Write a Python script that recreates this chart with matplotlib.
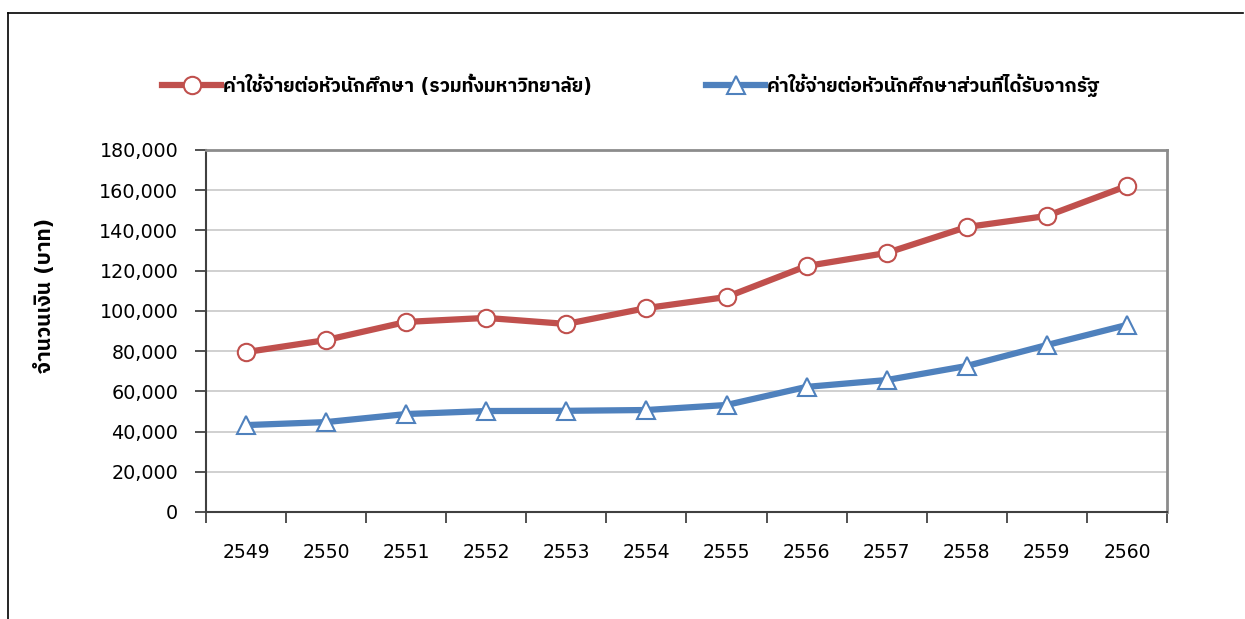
import matplotlib
matplotlib.use("Agg")
import matplotlib.pyplot as plt
from matplotlib.lines import Line2D
from matplotlib.ticker import FuncFormatter, FixedLocator
from matplotlib import font_manager

# หาฟอนต์ที่มีอักษรไทย
thai_fonts = []
for f in font_manager.fontManager.ttflist:
    if "Thai" in f.name or "Loma" in f.name or "Garuda" in f.name or "Sarabun" in f.name:
        thai_fonts.append(f.name)
plt.rcParams['font.family'] = ['DejaVu Sans'] + sorted(set(thai_fonts)) + ['Noto Sans', 'Noto Sans CJK SC']

years = ['2549', '2550', '2551', '2552', '2553', '2554',
         '2555', '2556', '2557', '2558', '2559', '2560']
cost_total = [79500, 85500, 94500, 96500, 93500, 101400,
              106900, 122300, 128800, 141700, 147200, 162100]
cost_state = [43200, 44700, 48700, 50200, 50300, 50700,
              53200, 62200, 65600, 72600, 83000, 93000]
label_total = 'ค่าใช้จ่ายต่อหัวนักศึกษา (รวมทั้งมหาวิทยาลัย)'
label_state = 'ค่าใช้จ่ายต่อหัวนักศึกษาส่วนที่ได้รับจากรัฐ'
y_label = 'จำนวนเงิน (บาท)'

fig = plt.figure(figsize=(12.45, 6.19), dpi=100)
ax = fig.add_axes([0.1655, 0.1729, 0.7718, 0.5848])

x = list(range(len(years)))
ax.plot(x, cost_total, color='#c0504d', lw=4.5, marker='o', ms=12.5,
        mfc='white', mec='#c0504d', mew=1.5, label=label_total, zorder=3)
ax.plot(x, cost_state, color='#4f81bd', lw=4.5, marker='^', ms=13,
        mfc='white', mec='#4f81bd', mew=1.5, label=label_state, zorder=3)

ax.set_xlim(-0.5, len(years) - 0.5)
ax.set_ylim(0, 180000)
ax.set_yticks(range(0, 180001, 20000))
ax.yaxis.set_major_formatter(FuncFormatter(lambda v, p: f'{int(v):,}'))
ax.grid(axis='y', color='#c8c8c8', lw=1.2)
ax.set_axisbelow(True)

# ขีดแบ่งอยู่ระหว่างปี ป้ายชื่ออยู่กลางช่อง
ax.xaxis.set_major_locator(FixedLocator([i - 0.5 for i in range(len(years) + 1)]))
ax.xaxis.set_major_formatter(FuncFormatter(lambda v, p: ''))
ax.xaxis.set_minor_locator(FixedLocator(x))
ax.set_xticklabels(years, minor=True)
ax.tick_params(axis='x', which='major', direction='out', length=8, width=1.2, color='#333333')
ax.tick_params(axis='x', which='minor', length=0, pad=22.5, labelsize=13.5)
ax.tick_params(axis='y', direction='out', length=8, width=1.2, color='#333333',
               labelsize=13.8, pad=12)

for s in ['left', 'bottom']:
    ax.spines[s].set_color('#404040')
    ax.spines[s].set_linewidth(1.5)
for s in ['top', 'right']:
    ax.spines[s].set_color('#8c8c8c')
    ax.spines[s].set_linewidth(2)

fig.text(45 / 1245, 1 - 295 / 619, y_label, rotation=90, ha='center', va='center',
         fontsize=15, fontweight='bold')

fig.legend(loc='center', bbox_to_anchor=(0.507, 0.862), ncol=2, frameon=False,
           handlelength=3.1, columnspacing=6.0, handletextpad=0.1,
           prop={'weight': 'bold', 'size': 13.7})

# กรอบรอบแผนภูมิด้านบนและซ้าย
fig.add_artist(Line2D([8 / 1245, 8 / 1245], [0, 1 - 13 / 619], color='black', lw=1.2))
fig.add_artist(Line2D([8 / 1245, 1243 / 1245], [1 - 13 / 619, 1 - 13 / 619], color='black', lw=1.2))

fig.savefig('out.png', dpi=100)
